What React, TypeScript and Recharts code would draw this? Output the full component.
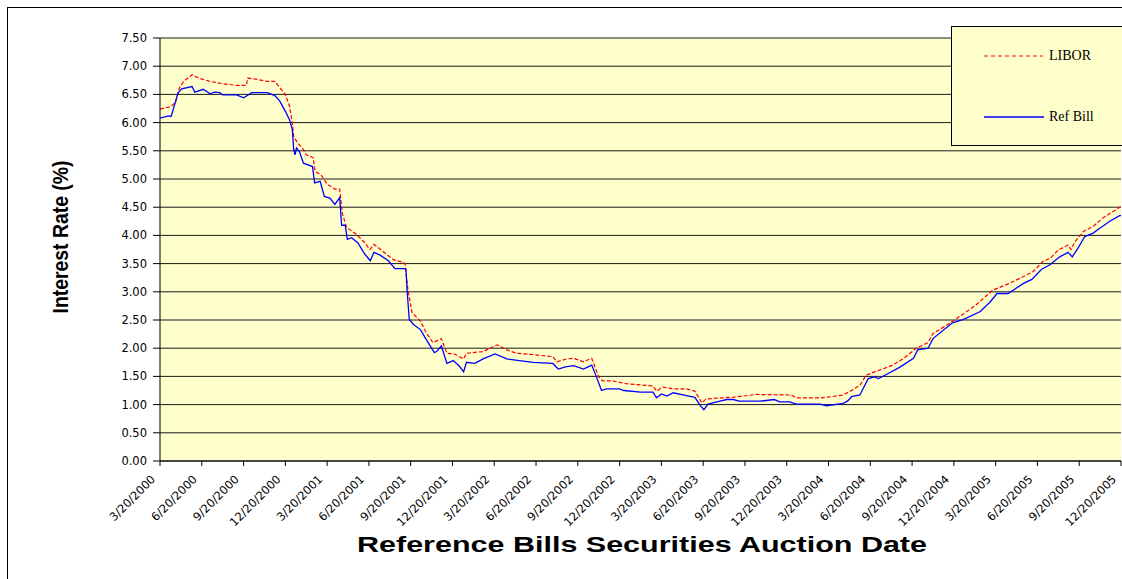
import { LineChart, Line, XAxis, YAxis, CartesianGrid, Legend } from "recharts";

// x positions are months after the 3/20/2000 auction
const liborMonths = [
  0, 0.7, 1.1, 1.4, 1.7, 2.3, 2.5, 2.9, 3.6, 4.5, 5.5, 6.2, 6.3, 6.9, 7.7, 8.25, 8.6, 9.0, 9.3, 9.5,
  9.6, 9.8, 10.3, 10.5, 11.0, 11.13, 11.6, 12.0, 12.56, 12.9, 13.1, 13.4, 14.1, 14.7, 15.07, 15.36,
  16.0, 16.75, 17.5, 17.6, 17.8, 18.1, 18.7, 19.1, 19.6, 20.2, 20.6, 21.1, 21.8, 22.0, 23.2, 24.2,
  24.9, 25.6, 26.6, 28.2, 28.5, 29.2, 29.7, 30.4, 31.0, 31.5, 31.8, 32.5, 33.5, 35.4, 35.65, 36.1,
  36.85, 37.8, 38.4, 38.9, 39.2, 40.4, 41.15, 42.8, 45.3, 45.7, 47.5, 48.2, 49.05, 49.5, 50.25,
  50.7, 51.3, 52.2, 52.6, 53.4, 54.3, 55.15, 55.5, 56.5, 57.4, 58.6, 59.8, 60.9, 62.0, 62.7, 63.4,
  63.9, 64.5, 65.2, 65.4, 65.7, 66.3, 67.0, 67.7, 68.4, 69.0,
];
const liborRates = [
  6.24, 6.28, 6.35, 6.62, 6.73, 6.85, 6.82, 6.78, 6.73, 6.69, 6.66, 6.66, 6.79, 6.77, 6.73, 6.73,
  6.62, 6.5, 6.29, 6.0, 5.76, 5.67, 5.52, 5.43, 5.38, 5.14, 5.06, 4.91, 4.82, 4.82, 4.38, 4.14,
  4.02, 3.87, 3.75, 3.84, 3.72, 3.57, 3.52, 3.49, 3.04, 2.63, 2.48, 2.28, 2.1, 2.17, 1.91, 1.9,
  1.81, 1.91, 1.94, 2.06, 1.97, 1.91, 1.89, 1.85, 1.76, 1.81, 1.82, 1.76, 1.82, 1.49, 1.42, 1.42,
  1.37, 1.33, 1.24, 1.31, 1.28, 1.28, 1.24, 1.03, 1.1, 1.12, 1.13, 1.18, 1.17, 1.12, 1.12, 1.14,
  1.17, 1.23, 1.34, 1.52, 1.58, 1.66, 1.7, 1.82, 2.0, 2.1, 2.26, 2.41, 2.56, 2.77, 3.03, 3.14,
  3.27, 3.36, 3.54, 3.59, 3.74, 3.83, 3.75, 3.89, 4.07, 4.16, 4.31, 4.42, 4.51,
];

const billMonths = [
  0, 0.6, 0.8, 1.3, 1.55, 2.3, 2.5, 3.1, 3.6, 3.9, 4.3, 4.5, 5.5, 6.0, 6.6, 7.7, 8.25, 8.6, 9.0,
  9.3, 9.5, 9.6, 9.7, 9.8, 10.0, 10.3, 10.95, 11.1, 11.5, 11.8, 12.2, 12.56, 12.9, 13.0, 13.04,
  13.3, 13.45, 13.76, 14.2, 14.7, 15.1, 15.36, 15.8, 16.4, 16.87, 17.5, 17.66, 17.75, 17.9, 18.2,
  18.7, 19.1, 19.7, 19.9, 20.2, 20.6, 21.06, 21.5, 21.8, 22.0, 22.6, 23.2, 24.05, 24.9, 25.8,
  26.8, 28.2, 28.6, 29.1, 29.7, 30.4, 31.0, 31.2, 31.7, 32.05, 33.0, 33.3, 34.5, 35.4, 35.65,
  36.0, 36.4, 36.85, 37.8, 38.4, 38.8, 39.05, 39.35, 40.2, 40.7, 41.15, 41.6, 43.1, 44.1, 44.5,
  45.2, 45.7, 47.4, 47.85, 49.05, 49.4, 49.65, 50.25, 50.6, 50.85, 51.3, 51.6, 52.05, 53.1, 54.1,
  54.4, 55.15, 55.5, 56.9, 57.7, 58.9, 59.6, 60.1, 60.9, 62.0, 62.6, 63.3, 63.9, 64.6, 65.2, 65.5,
  65.9, 66.4, 67.0, 67.5, 68.2, 68.9, 69.0,
];
const billRates = [
  6.08, 6.12, 6.11, 6.53, 6.6, 6.64, 6.54, 6.59, 6.51, 6.54, 6.53, 6.49, 6.49, 6.44, 6.53, 6.53,
  6.48, 6.38, 6.2, 6.05, 5.88, 5.52, 5.43, 5.55, 5.49, 5.28, 5.22, 4.93, 4.96, 4.69, 4.66, 4.55,
  4.67, 4.32, 4.18, 4.18, 3.93, 3.96, 3.87, 3.67, 3.55, 3.7, 3.65, 3.55, 3.41, 3.41, 3.4, 2.99,
  2.51, 2.42, 2.33, 2.16, 1.92, 1.95, 2.04, 1.73, 1.78, 1.68, 1.58, 1.75, 1.73, 1.81, 1.9, 1.81,
  1.78, 1.75, 1.73, 1.63, 1.67, 1.69, 1.63, 1.7, 1.58, 1.25, 1.28, 1.28, 1.25, 1.22, 1.22, 1.12,
  1.19, 1.15, 1.21, 1.16, 1.13, 0.98, 0.91, 1.01, 1.06, 1.09, 1.09, 1.06, 1.06, 1.09, 1.05, 1.05,
  1.01, 1.01, 0.98, 1.02, 1.07, 1.14, 1.17, 1.34, 1.46, 1.49, 1.46, 1.52, 1.66, 1.82, 1.97, 2.0,
  2.17, 2.45, 2.51, 2.65, 2.82, 2.97, 2.97, 3.15, 3.22, 3.4, 3.48, 3.62, 3.7, 3.62, 3.77, 3.98,
  4.04, 4.13, 4.25, 4.35, 4.35,
];

const tickLabels = [
  "3/20/2000", "6/20/2000", "9/20/2000", "12/20/2000",
  "3/20/2001", "6/20/2001", "9/20/2001", "12/20/2001",
  "3/20/2002", "6/20/2002", "9/20/2002", "12/20/2002",
  "3/20/2003", "6/20/2003", "9/20/2003", "12/20/2003",
  "3/20/2004", "6/20/2004", "9/20/2004", "12/20/2004",
  "3/20/2005", "6/20/2005", "9/20/2005", "12/20/2005",
];
const yTicks = [0, 0.5, 1, 1.5, 2, 2.5, 3, 3.5, 4, 4.5, 5, 5.5, 6, 6.5, 7, 7.5];

const liborData = liborMonths.map((m, i) => ({ m, rate: liborRates[i] }));
const billData = billMonths.map((m, i) => ({ m, rate: billRates[i] }));
const xTicks = tickLabels.map((_, i) => i * 3);

const tickFont = "'DejaVu Sans', Tahoma, sans-serif";

function DateTick({ x, y, payload }: any) {
  const label = tickLabels[Math.round(payload.value / 3)];
  const ax = x - 4;
  const ay = y + 12;
  return (
    <text
      x={ax}
      y={ay}
      transform={`rotate(-45 ${ax} ${ay})`}
      textAnchor="end"
      fontFamily={tickFont}
      fontSize={11.5}
      fill="#000"
    >
      {label}
    </text>
  );
}

function LegendBox() {
  return (
    <div
      style={{
        width: 200,
        height: 118,
        background: "#FFFFCC",
        border: "1px solid #000",
        position: "relative",
      }}
    >
      <svg width={200} height={118} style={{ position: "absolute", left: 0, top: 0 }}>
        <line x1={32} y1={29} x2={91} y2={29} stroke="#FF0000" strokeDasharray="4 3" />
        <line x1={32} y1={90} x2={92} y2={90} stroke="#0000FF" strokeWidth={1.3} />
        <text x={97} y={33} fontFamily="'Liberation Serif', serif" fontSize={14} fill="#000">
          LIBOR
        </text>
        <text x={97} y={94} fontFamily="'Liberation Serif', serif" fontSize={14} fill="#000">
          Ref Bill
        </text>
      </svg>
    </div>
  );
}

export default function App() {
  return (
    <div
      style={{
        position: "absolute",
        left: 0,
        top: 0,
        width: 1122,
        height: 579,
        overflow: "hidden",
        background: "#fff",
      }}
    >
      <div
        style={{
          position: "absolute",
          left: 7,
          top: 7,
          width: 1200,
          height: 700,
          border: "1px solid #000",
        }}
      />
      <LineChart
        width={1122}
        height={579}
        margin={{ top: 38, right: 1, bottom: 18, left: 100 }}
        style={{ position: "absolute", left: 0, top: 0 }}
      >
        <CartesianGrid
          vertical={false}
          stroke="#1a1a1a"
          fill="#FFFFCC"
          fillOpacity={1}
          horizontalValues={yTicks}
        />
        <XAxis
          type="number"
          dataKey="m"
          domain={[0, 69]}
          ticks={xTicks}
          allowDataOverflow
          interval={0}
          height={100}
          tickSize={5}
          tickMargin={2}
          stroke="#000"
          tick={<DateTick />}
        />
        <YAxis
          domain={[0, 7.5]}
          ticks={yTicks}
          interval={0}
          width={60}
          tickSize={7}
          tickMargin={6}
          stroke="#000"
          tickFormatter={(v: number) => v.toFixed(2)}
          tick={{ fontFamily: tickFont, fontSize: 11.5, fill: "#000" }}
        />
        <Legend
          layout="vertical"
          align="center"
          verticalAlign="middle"
          content={<LegendBox />}
          wrapperStyle={{ position: "absolute", left: 951, top: 26, width: 200, height: 118 }}
        />
        <Line
          data={liborData}
          dataKey="rate"
          name="LIBOR"
          type="linear"
          stroke="#FF0000"
          strokeWidth={1.2}
          strokeDasharray="4 2"
          dot={false}
          isAnimationActive={false}
        />
        <Line
          data={billData}
          dataKey="rate"
          name="Ref Bill"
          type="linear"
          stroke="#0000FF"
          strokeWidth={1.3}
          dot={false}
          isAnimationActive={false}
        />
      </LineChart>
      <svg
        width={1122}
        height={579}
        style={{ position: "absolute", left: 0, top: 0, pointerEvents: "none" }}
      >
        <text
          x={642}
          y={552}
          textAnchor="middle"
          fontFamily="'Liberation Sans', Arial, sans-serif"
          fontWeight="bold"
          fontSize={22}
          textLength={570}
          lengthAdjust="spacingAndGlyphs"
        >
          Reference Bills Securities Auction Date
        </text>
        <text
          transform="translate(68 237) rotate(-90)"
          textAnchor="middle"
          fontFamily="'Liberation Sans', Arial, sans-serif"
          fontWeight="bold"
          fontSize={22}
          textLength={153}
          lengthAdjust="spacingAndGlyphs"
        >
          Interest Rate (%)
        </text>
      </svg>
    </div>
  );
}
